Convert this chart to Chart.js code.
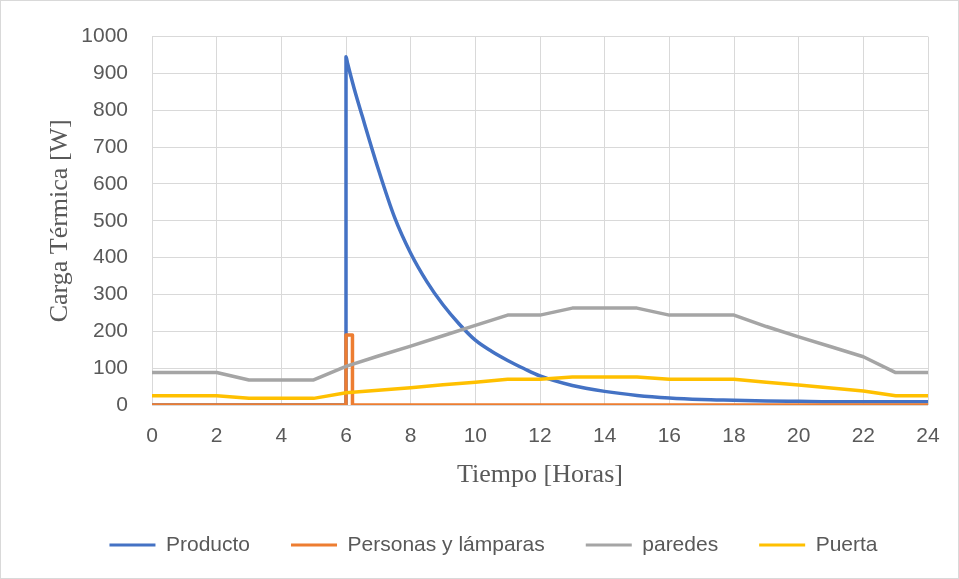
<!DOCTYPE html>
<html>
<head>
<meta charset="utf-8">
<script src="https://cdn.jsdelivr.net/npm/chart.js@4/dist/chart.umd.min.js"></script>
<style>
  html, body { margin: 0; padding: 0; background: #ffffff; }
  #wrap { width: 959px; height: 579px; position: relative; }
</style>
</head>
<body>
<div id="wrap"><canvas id="chart" width="959" height="579"></canvas></div>
<script>
// Hourly load curves of a cold room (W)
const hours = [0, 1, 2, 3, 4, 5, 6, 7, 8, 9, 10, 11, 12, 13, 14, 15, 16, 17, 18, 19, 20, 21, 22, 23, 24];

// Product pull-down load: enters at 6 h and decays
const productoHours  = [0, 1, 2, 3, 4, 5, 6, 6, 6.05, 6.25, 6.5, 7, 7.5, 8, 8.5, 9, 9.5, 10, 10.5, 11, 11.5, 12, 13, 14, 15, 16, 17, 18, 19, 20, 21, 22, 23, 24];
const productoValues = [0, 0, 0, 0, 0, 0, 0, 945, 927, 860, 785, 640, 510, 412, 335, 272, 220, 176, 146, 121, 99, 79, 53, 37, 26, 19, 15, 13, 11, 10, 9, 9, 9, 9];

// People and lamps: short pulse while loading
const personasHours  = [0, 6, 6, 6.2, 6.2, 24];
const personasValues = [0, 0, 190, 190, 0, 0];

// Wall transmission
const paredesValues = [88, 88, 88, 68, 68, 68, 105, 133, 160, 188, 216, 244, 244, 263, 263, 263, 244, 244, 244, 213, 185, 158, 131, 88, 88];

// Door infiltration
const puertaValues = [25, 25, 25, 18, 18, 18, 33, 40, 47, 55, 62, 70, 70, 76, 76, 76, 70, 70, 70, 62, 54, 46, 38, 25, 25];

const seriesNames = ['Producto', 'Personas y lámparas', 'paredes', 'Puerta'];
const seriesColors = ['#4472C4', '#ED7D31', '#A5A5A5', '#FFC000'];
const seriesSmooth = [true, false, false, false];

const xTitle = 'Tiempo [Horas]';
const yTitle = 'Carga Térmica [W]';

const toPoints = (xs, ys) => xs.map((x, i) => ({ x: x, y: ys[i] }));

const labelColor = '#595959';
const gridColor = '#d9d9d9';
const tickFont = { family: 'Liberation Sans', size: 21 };
const titleFont = { family: 'Liberation Serif', size: 26 };

// thin border around the whole chart area
const frame = {
  id: 'frame',
  afterDraw(chart) {
    const c = chart.ctx;
    c.save();
    c.strokeStyle = gridColor;
    c.lineWidth = 1;
    c.strokeRect(0.5, 0.5, chart.width - 1, chart.height - 1);
    c.restore();
  }
};

const pointSets = [
  toPoints(productoHours, productoValues),
  toPoints(personasHours, personasValues),
  toPoints(hours, paredesValues),
  toPoints(hours, puertaValues)
];

new Chart(document.getElementById('chart'), {
  type: 'line',
  data: {
    datasets: pointSets.map((pts, i) => ({
      label: seriesNames[i],
      data: pts,
      borderColor: seriesColors[i],
      backgroundColor: seriesColors[i],
      borderWidth: 3.5,
      pointRadius: 0,
      fill: false,
      tension: seriesSmooth[i] ? 0.4 : 0,
      cubicInterpolationMode: seriesSmooth[i] ? 'monotone' : 'default',
      borderJoinStyle: 'round',
      order: 4 - i
    }))
  },
  options: {
    responsive: false,
    animation: false,
    devicePixelRatio: 1,
    layout: { padding: { left: 59, right: 31, top: 36, bottom: 13.5 } },
    plugins: {
      tooltip: { enabled: false },
      legend: {
        position: 'bottom',
        labels: {
          boxWidth: 46,
          boxHeight: 3,
          padding: 41,
          color: labelColor,
          font: tickFont,
          sort: (a, b) => a.datasetIndex - b.datasetIndex,
          generateLabels(chart) {
            const items = Chart.defaults.plugins.legend.labels.generateLabels(chart);
            items.forEach(it => { it.lineWidth = 0; it.fillStyle = it.strokeStyle; });
            return items;
          }
        }
      }
    },
    scales: {
      x: {
        type: 'linear',
        min: 0,
        max: 24,
        ticks: {
          stepSize: 2,
          padding: 19,
          color: labelColor,
          font: tickFont,
          callback: v => String(v)
        },
        grid: { color: gridColor, lineWidth: 1, drawTicks: false },
        border: { display: false },
        title: { display: true, text: xTitle, color: labelColor, font: titleFont, padding: { top: 0, bottom: 3 } },
        afterFit(scale) { scale.height = 88.5; }
      },
      y: {
        min: 0,
        max: 1000,
        ticks: {
          stepSize: 100,
          padding: 24,
          color: labelColor,
          font: tickFont,
          callback: v => String(v)
        },
        grid: { color: gridColor, lineWidth: 1, drawTicks: false },
        border: { display: false },
        title: { display: true, text: yTitle, color: labelColor, font: titleFont, padding: { top: -14.6, bottom: 0 } },
        afterFit(scale) { scale.width = 93; }
      }
    }
  },
  plugins: [frame]
});
</script>
</body>
</html>
